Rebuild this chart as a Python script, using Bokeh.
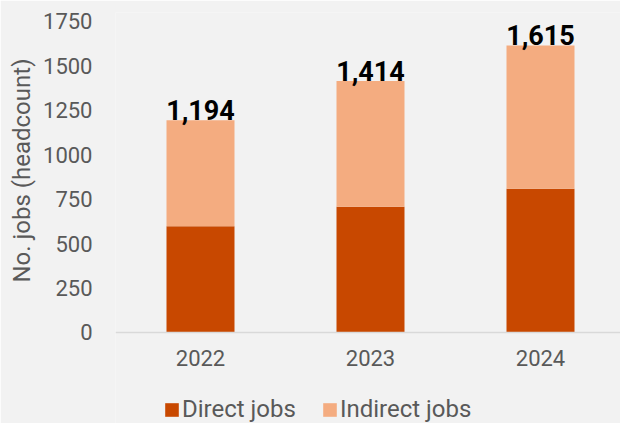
from bokeh.plotting import figure
from bokeh.models import (Range1d, FixedTicker, Legend, LegendItem,
                          ColumnDataSource, Title)
from bokeh.embed import file_html
from bokeh.resources import INLINE
from bokeh.core.properties import value

years = ["2022", "2023", "2024"]
direct_jobs = [597, 707, 808]
indirect_jobs = [597, 707, 807]
y_ticks = [0, 250, 500, 750, 1000, 1250, 1500, 1750]
series_names = ["Direct jobs", "Indirect jobs"]
y_title = "No. jobs (headcount)"
colors = ["#C84800", "#F4AC80"]

FONT = "Roboto"
GRAY = "#595959"
BG = "#F2F2F2"

xs = list(range(len(years)))
totals = [d + i for d, i in zip(direct_jobs, indirect_jobs)]
src = ColumnDataSource(dict(
    x=xs, direct=direct_jobs, indirect=indirect_jobs, total=totals,
    label=[f"{t:,}" for t in totals],
))

# frame spans the whole height; the x axis sits at y=0 inside it,
# leaving room below for the tick labels and the legend
p = figure(width=620, height=423, output_backend="svg", toolbar_location=None,
           x_range=Range1d(-0.5, 2.4706), y_range=Range1d(-512, 1800),
           min_border_left=115, min_border_right=0, min_border_top=12,
           min_border_bottom=0)

rs = p.vbar_stack(["direct", "indirect"], x="x", width=0.4, color=colors,
                  line_width=0, source=src)

p.text(x="x", y="total", text="label", source=src, text_align="center",
       text_baseline="bottom", text_font=value(FONT), text_font_style="bold",
       text_font_size="27px", text_color="black")

xa = p.xaxis[0]
xa.fixed_location = 0
xa.ticker = FixedTicker(ticks=xs)
xa.major_label_overrides = {i: y for i, y in enumerate(years)}
xa.major_tick_line_color = None
xa.minor_tick_line_color = None
xa.major_tick_out = 0
xa.axis_line_color = "#D9D9D9"
xa.axis_line_width = 1.5
xa.major_label_text_font = FONT
xa.major_label_text_font_size = "22px"
xa.major_label_text_color = GRAY
xa.major_label_standoff = 18

legend = Legend(items=[LegendItem(label=series_names[0], renderers=[rs[0]]),
                       LegendItem(label=series_names[1], renderers=[rs[1]])],
                orientation="horizontal", location=(48, 0), padding=0, margin=0,
                spacing=25, glyph_width=17, glyph_height=17, label_standoff=2,
                label_text_font=FONT, label_text_font_size="24px",
                label_text_color=GRAY, background_fill_alpha=0,
                border_line_color=None)
p.add_layout(legend)

ya = p.yaxis[0]
ya.ticker = FixedTicker(ticks=y_ticks)
ya.axis_line_color = None
ya.major_tick_line_color = None
ya.minor_tick_line_color = None
ya.major_tick_out = 0
ya.major_label_text_font = FONT
ya.major_label_text_font_size = "22px"
ya.major_label_text_color = GRAY
ya.major_label_standoff = 23

# axis title as a side title so it can be centred on the 0-1750 span
p.add_layout(Title(text=y_title, align="right", vertical_align="middle",
                   offset=46, standoff=7, text_font=FONT, text_font_size="24px",
                   text_font_style="normal", text_color=GRAY), "left")

p.grid.visible = False
p.outline_line_color = None
p.background_fill_color = BG
p.border_fill_color = BG

open("out.html", "w").write(file_html(p, INLINE))
